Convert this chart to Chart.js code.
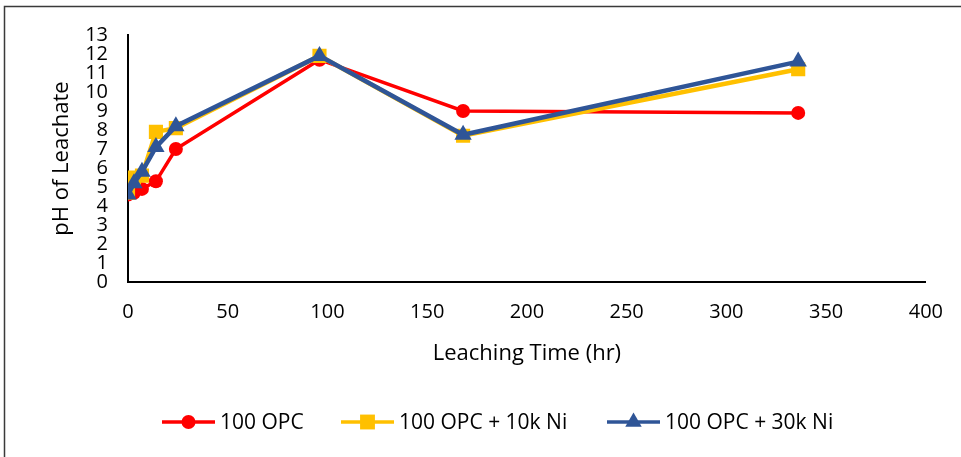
<!DOCTYPE html>
<html>
<head>
<meta charset="utf-8">
<script src="https://cdn.jsdelivr.net/npm/chart.js@4/dist/chart.umd.min.js"></script>
<style>
  html, body { margin: 0; padding: 0; background: #ffffff; }
  #wrap { position: relative; width: 961px; height: 457px; }
</style>
</head>
<body>
<div id="wrap"><canvas id="c" width="961" height="457"></canvas></div>
<script>
// Leaching time (hours) at each sampling point
const leachTimes = [0, 3, 7, 14, 24, 96, 168, 336];

// pH of leachate for each mix
const phOpc = [4.6, 4.7, 4.9, 5.3, 7.0, 11.7, 9.0, 8.9];
const phOpc10kNi = [4.7, 5.5, 5.6, 7.9, 8.1, 11.9, 7.7, 11.2];
const phOpc30kNi = [4.6, 5.2, 5.8, 7.1, 8.2, 11.9, 7.75, 11.6];

const seriesNames = ['100 OPC', '100 OPC + 10k Ni', '100 OPC + 30k Ni'];

const xTicks = [0, 50, 100, 150, 200, 250, 300, 350, 400];
const yTicks = [0, 1, 2, 3, 4, 5, 6, 7, 8, 9, 10, 11, 12, 13];

const FONT = '"Open Sans", "Liberation Sans", sans-serif';

function pts(ys) {
  return leachTimes.map((t, i) => ({ x: t, y: ys[i] }));
}

// Outer frame around the whole figure
const framePlugin = {
  id: 'frame',
  beforeDraw(chart) {
    const ctx = chart.ctx;
    ctx.save();
    ctx.fillStyle = '#ffffff';
    ctx.fillRect(0, 0, chart.width, chart.height);
    ctx.strokeStyle = '#3a3a3a';
    ctx.lineWidth = 1.5;
    ctx.strokeRect(4.5, 6.5, chart.width + 20, chart.height + 20);
    ctx.restore();
  }
};

// Legend entries drawn as a short line with the marker in its middle
const lineLegendPlugin = {
  id: 'lineLegend',
  afterDraw(chart) {
    const ctx = chart.ctx;
    const starts = [162, 341, 607];
    const yMid = 422;
    const lineLen = 53;
    const markerR = { circle: 7, rect: 10.5, triangle: 9.5 };
    ctx.save();
    chart.data.datasets.forEach((ds, i) => {
      const x0 = starts[i];
      const cx = x0 + lineLen / 2;
      ctx.strokeStyle = ds.borderColor;
      ctx.lineWidth = 3.5;
      ctx.beginPath();
      ctx.moveTo(x0, yMid);
      ctx.lineTo(x0 + lineLen, yMid);
      ctx.stroke();
      ctx.fillStyle = ds.pointBackgroundColor;
      ctx.beginPath();
      const r = markerR[ds.pointStyle];
      if (ds.pointStyle === 'circle') {
        ctx.arc(cx, yMid, r, 0, Math.PI * 2);
      } else if (ds.pointStyle === 'rect') {
        const s = r * Math.SQRT1_2;
        ctx.rect(cx - s, yMid - s, 2 * s, 2 * s);
      } else {
        ctx.moveTo(cx, yMid - r);
        ctx.lineTo(cx + r * 0.866, yMid + r * 0.5);
        ctx.lineTo(cx - r * 0.866, yMid + r * 0.5);
        ctx.closePath();
      }
      ctx.fill();
      ctx.fillStyle = '#000000';
      ctx.font = '21px ' + FONT;
      ctx.textBaseline = 'middle';
      ctx.textAlign = 'left';
      ctx.fillText(ds.label, x0 + lineLen + 5, yMid + 1);
    });
    ctx.restore();
  }
};

const ctx = document.getElementById('c').getContext('2d');
new Chart(ctx, {
  type: 'line',
  data: {
    datasets: [
      {
        label: seriesNames[0],
        data: pts(phOpc),
        borderColor: '#FF0000',
        backgroundColor: '#FF0000',
        pointBackgroundColor: '#FF0000',
        pointBorderColor: '#FF0000',
        borderWidth: 3.5,
        pointBorderWidth: 0,
        pointStyle: 'circle',
        pointRadius: 7,
        order: 3
      },
      {
        label: seriesNames[1],
        data: pts(phOpc10kNi),
        borderColor: '#FFC000',
        backgroundColor: '#FFC000',
        pointBackgroundColor: '#FFC000',
        pointBorderColor: '#FFC000',
        borderWidth: 4.5,
        pointBorderWidth: 0,
        pointStyle: 'rect',
        pointRadius: 10,
        order: 2
      },
      {
        label: seriesNames[2],
        data: pts(phOpc30kNi),
        borderColor: '#2F5597',
        backgroundColor: '#2F5597',
        pointBackgroundColor: '#2F5597',
        pointBorderColor: '#2F5597',
        borderWidth: 4.5,
        pointBorderWidth: 0,
        pointStyle: 'triangle',
        pointRadius: 10,
        order: 1
      }
    ]
  },
  options: {
    responsive: false,
    animation: false,
    devicePixelRatio: 1,
    layout: { padding: { top: 35, right: 31, bottom: 75, left: 0 } },
    plugins: {
      legend: { display: false },
      tooltip: { enabled: false }
    },
    elements: { line: { tension: 0 } },
    scales: {
      x: {
        type: 'linear',
        min: 0,
        max: 400,
        afterBuildTicks(scale) { scale.ticks = xTicks.map(v => ({ value: v })); },
        afterFit(scale) { scale.height = 100; },
        grid: { display: false, drawTicks: false },
        border: { display: true, color: '#000000', width: 2 },
        ticks: {
          color: '#000000',
          font: { family: FONT, size: 20 },
          padding: 18,
          maxRotation: 0
        },
        title: {
          display: true,
          text: 'Leaching Time (hr)',
          color: '#000000',
          font: { family: FONT, size: 22 },
          padding: { top: 4, bottom: 15 }
        }
      },
      y: {
        type: 'linear',
        min: 0,
        max: 13,
        afterBuildTicks(scale) { scale.ticks = yTicks.map(v => ({ value: v })); },
        afterFit(scale) { scale.width = 128; },
        grid: { display: false, drawTicks: false },
        border: { display: true, color: '#000000', width: 2 },
        ticks: {
          color: '#000000',
          font: { family: FONT, size: 20, lineHeight: 1 },
          padding: 20,
          autoSkip: false
        },
        title: {
          display: true,
          text: 'pH of Leachate',
          color: '#000000',
          font: { family: FONT, size: 22 },
          padding: { top: 49, bottom: 0 }
        }
      }
    }
  },
  plugins: [framePlugin, lineLegendPlugin]
});
</script>
</body>
</html>
